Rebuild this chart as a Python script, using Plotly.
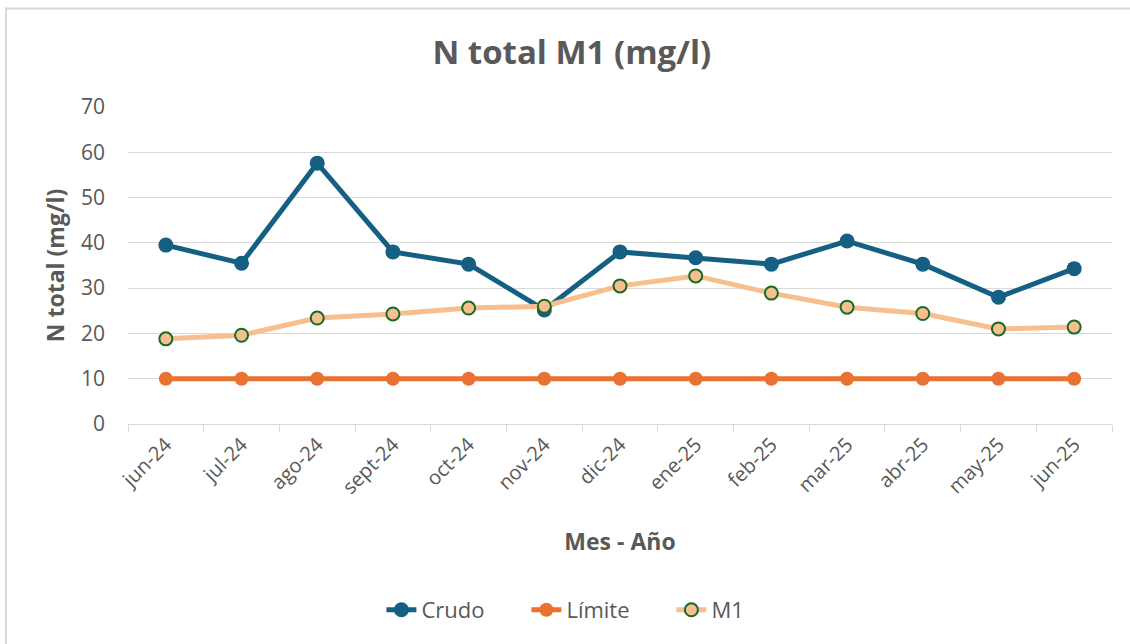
import plotly.graph_objects as go

# Meses de muestreo
meses = ["jun-24", "jul-24", "ago-24", "sept-24", "oct-24", "nov-24", "dic-24",
         "ene-25", "feb-25", "mar-25", "abr-25", "may-25", "jun-25"]

# N total (mg/l) por serie
crudo = [39.5, 35.5, 57.6, 38.0, 35.3, 25.2, 38.0, 36.7, 35.3, 40.4, 35.3, 28.0, 34.3]
limite = [10, 10, 10, 10, 10, 10, 10, 10, 10, 10, 10, 10, 10]
m1 = [18.8, 19.6, 23.4, 24.3, 25.6, 26.0, 30.5, 32.7, 28.9, 25.8, 24.4, 21.0, 21.4]

y_ticks = [0, 10, 20, 30, 40, 50, 60, 70]

FONT = "Open Sans"
GREY = "#595959"
GRID = "#D9D9D9"

fig = go.Figure()
fig.add_trace(go.Scatter(
    x=meses, y=crudo, name="Crudo", mode="lines+markers",
    line=dict(color="#156082", width=5),
    marker=dict(color="#156082", size=15),
))
fig.add_trace(go.Scatter(
    x=meses, y=limite, name="Límite", mode="lines+markers",
    line=dict(color="#E97132", width=5),
    marker=dict(color="#E97132", size=14),
))
fig.add_trace(go.Scatter(
    x=meses, y=m1, name="M1", mode="lines+markers",
    line=dict(color="#F7BF90", width=5),
    marker=dict(color="#F7BF90", size=13, line=dict(color="#196B24", width=2)),
))

fig.update_layout(
    width=1130, height=644,
    margin=dict(l=128, r=18, t=107, b=220),
    paper_bgcolor="white", plot_bgcolor="white",
    font=dict(family=FONT, color=GREY),
    title=dict(
        text="<b>N total M1 (mg/l)</b>",
        font=dict(family=FONT, size=33, color=GREY),
        xref="container", x=0.506, xanchor="center",
        yref="container", y=1 - 52 / 644, yanchor="middle",
    ),
    showlegend=True,
    legend=dict(
        orientation="h", xref="container", x=0.530, xanchor="center",
        yref="container", y=1 - 610 / 644, yanchor="middle",
        font=dict(family=FONT, size=22, color=GREY),
        entrywidth=100, tracegroupgap=0,
    ),
    # chart frame: only its top and left edges fall inside the page
    shapes=[dict(
        type="path", xref="paper", yref="paper", layer="below",
        path="M -0.124,-1.0 L -0.124,1.311 L 1.2,1.311",
        line=dict(color=GRID, width=2),
    )],
)

fig.update_xaxes(
    type="category", range=[-0.5, len(meses) - 0.5], tickson="boundaries",
    ticks="outside", ticklen=7, tickcolor=GRID, tickwidth=1,
    showline=True, linecolor=GRID, linewidth=1,
    showgrid=False, tickangle=-45,
    tickfont=dict(family=FONT, size=20, color=GREY),
    title=dict(text="<b>Mes - Año</b>", standoff=35,
               font=dict(family=FONT, size=23, color=GREY)),
)
fig.update_yaxes(
    range=[0, 70], tickvals=y_ticks,
    showgrid=True, gridcolor=GRID, gridwidth=1,
    zeroline=False, showline=False,
    ticks="", ticklabelstandoff=22,
    tickfont=dict(family=FONT, size=21, color=GREY),
    title=dict(text="<b>N total (mg/l)</b>", standoff=9,
               font=dict(family=FONT, size=23, color=GREY)),
)

fig.write_html("out.html")
